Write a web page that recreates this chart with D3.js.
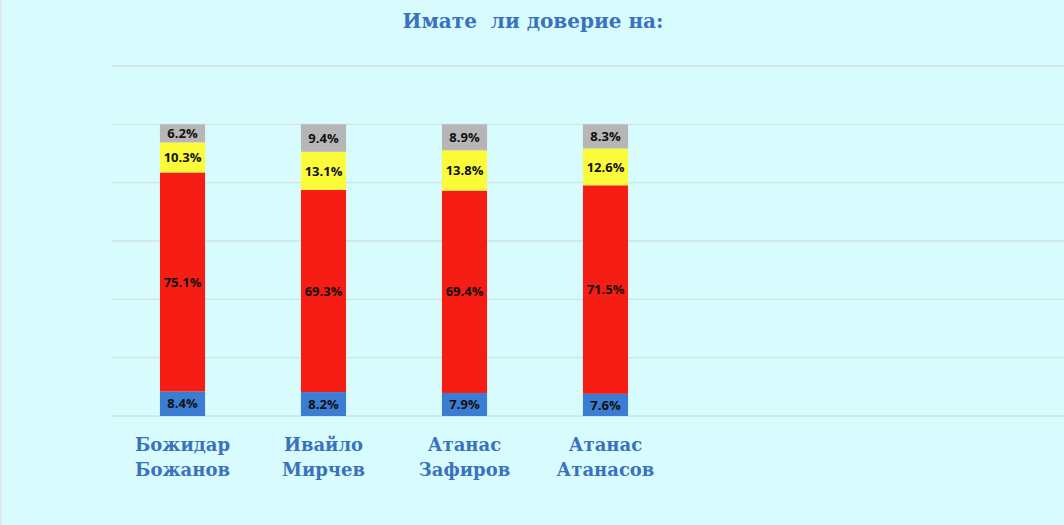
<!DOCTYPE html>
<html>
<head>
<meta charset="utf-8">
<script src="https://cdn.jsdelivr.net/npm/d3@7"></script>
<style>
  html, body { margin: 0; padding: 0; background: #d8fbfd; }
  svg { display: block; }
</style>
</head>
<body>
<svg></svg>
<script>
const width = 1064,
      height = 525;

const title = 'Имате  ли доверие на:';
const categories = [['Божидар', 'Божанов'], ['Ивайло', 'Мирчев'], ['Атанас', 'Зафиров'], ['Атанас', 'Атанасов']];
const series = ['blue', 'red', 'yellow', 'gray'];
const blueVals   = [8.4, 8.2, 7.9, 7.6];
const redVals    = [75.1, 69.3, 69.4, 71.5];
const yellowVals = [10.3, 13.1, 13.8, 12.6];
const grayVals   = [6.2, 9.4, 8.9, 8.3];
const yTicks = [0, 20, 40, 60, 80, 100, 120];

const colors = { blue: '#3b7dd3', red: '#f61d14', yellow: '#fbfb3a', gray: '#b6b6b6' };

const rows = categories.map((c, i) => ({
  key: c.join(' '),
  blue: blueVals[i], red: redVals[i], yellow: yellowVals[i], gray: grayVals[i]
}));

const svg = d3.select('svg')
  .attr('width', width)
  .attr('height', height)
  .style('background', '#d8fbfd');

// thin grey strip on the left edge
svg.append('rect').attr('x', 0).attr('y', 0).attr('width', 2).attr('height', height).attr('fill', '#e2e6e6');

const x = d3.scaleBand()
  .domain(rows.map(d => d.key))
  .range([112, 112 + 141 * rows.length])
  .paddingInner(0.68)
  .paddingOuter(0.34);

const y = d3.scaleLinear()
  .domain([0, 120])
  .range([416, 66]);

// gridlines
svg.append('g')
  .selectAll('line')
  .data(yTicks)
  .enter().append('line')
  .attr('x1', 112)
  .attr('x2', width)
  .attr('y1', d => y(d))
  .attr('y2', d => y(d))
  .attr('stroke', '#d2e2e7')
  .attr('stroke-width', 1.3);

const stack = d3.stack().keys(series);
const layers = stack(rows);

const groups = svg.selectAll('g.layer')
  .data(layers)
  .enter().append('g')
  .attr('class', 'layer')
  .attr('fill', d => colors[d.key]);

groups.selectAll('rect')
  .data(d => d)
  .enter().append('rect')
  .attr('x', d => x(d.data.key))
  .attr('width', x.bandwidth())
  .attr('y', d => y(d[1]))
  .attr('height', d => y(d[0]) - y(d[1]));

groups.selectAll('text')
  .data(d => d)
  .enter().append('text')
  .attr('x', d => x(d.data.key) + x.bandwidth() / 2)
  .attr('y', d => (y(d[0]) + y(d[1])) / 2)
  .attr('dy', '0.36em')
  .attr('text-anchor', 'middle')
  .attr('fill', '#111')
  .style('font-family', '"Open Sans", "Liberation Sans", sans-serif')
  .style('font-weight', 'bold')
  .style('font-size', '13px')
  .text(d => (d[1] - d[0]).toFixed(1) + '%');

// category labels
const cat = svg.append('g')
  .selectAll('text')
  .data(categories)
  .enter().append('text')
  .attr('x', (d, i) => x(rows[i].key) + x.bandwidth() / 2)
  .attr('y', 451)
  .attr('text-anchor', 'middle')
  .attr('fill', '#3a72bd')
  .style('font-family', '"DejaVu Serif", "Liberation Serif", serif')
  .style('font-weight', 'bold')
  .style('font-size', '18px');

cat.selectAll('tspan')
  .data(d => d)
  .enter().append('tspan')
  .attr('x', function() { return d3.select(this.parentNode).attr('x'); })
  .attr('dy', (d, i) => i === 0 ? 0 : 25)
  .text(d => d);

svg.append('text')
  .attr('x', 533)
  .attr('y', 28)
  .attr('text-anchor', 'middle')
  .attr('fill', '#3a72bd')
  .style('font-family', '"DejaVu Serif", "Liberation Serif", serif')
  .style('font-weight', 'bold')
  .style('font-size', '20px')
  .style('white-space', 'pre')
  .text(title);
</script>
</body>
</html>
